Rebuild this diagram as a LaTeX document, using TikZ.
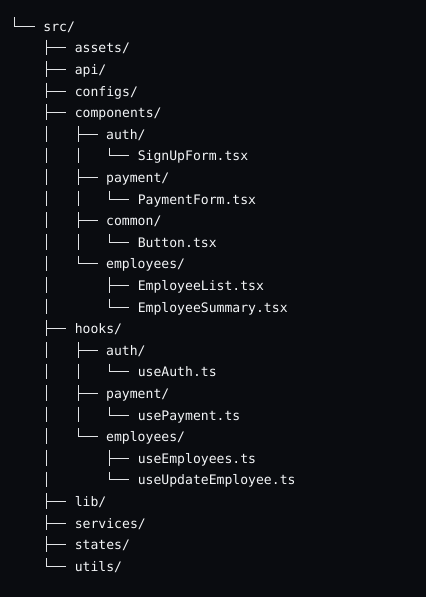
\documentclass[tikz,border=0pt]{standalone}
\usepackage{fontspec}
\setmonofont{DejaVu Sans Mono}
\usetikzlibrary{calc}
\definecolor{bgcol}{HTML}{0A0C10}
\definecolor{fgcol}{HTML}{F4F6F8}
\definecolor{linecol}{HTML}{E2E4E6}
\tikzset{
  entry/.style={anchor=west, inner sep=0pt, text height=13pt, text depth=3pt,
    text=fgcol, font=\ttfamily\fontsize{13.1}{13}\selectfont},
  twig/.style={draw=linecol, line width=1pt, line cap=rect, shorten >=8.8pt},
  trunk/.style={draw=linecol, line width=1pt, dash pattern=on 15.6pt off 6pt}
}
\begin{document}
\begin{tikzpicture}[x=1pt,y=-1pt]
  \fill[bgcol] (0,0) rectangle (426,597);
  \useasboundingbox (0,0) rectangle (426,597);
  % entries, one per row
  \node[entry] (src) at (43.2,26.2) {src/};
  \node[entry] (assets) at (74.6,47.8) {assets/};
  \node[entry] (api) at (74.6,69.4) {api/};
  \node[entry] (configs) at (74.6,91.0) {configs/};
  \node[entry] (components) at (74.6,112.6) {components/};
  \node[entry] (cauth) at (106.0,134.2) {auth/};
  \node[entry] (signup) at (137.6,155.8) {SignUpForm.tsx};
  \node[entry] (cpay) at (106.0,177.4) {payment/};
  \node[entry] (payform) at (137.6,199.0) {PaymentForm.tsx};
  \node[entry] (ccom) at (106.0,220.6) {common/};
  \node[entry] (button) at (137.6,242.2) {Button.tsx};
  \node[entry] (cemp) at (106.0,263.8) {employees/};
  \node[entry] (emplist) at (137.6,285.4) {EmployeeList.tsx};
  \node[entry] (empsum) at (137.6,307.0) {EmployeeSummary.tsx};
  \node[entry] (hooks) at (74.6,328.6) {hooks/};
  \node[entry] (hauth) at (106.0,350.2) {auth/};
  \node[entry] (useauth) at (137.6,371.8) {useAuth.ts};
  \node[entry] (hpay) at (106.0,393.4) {payment/};
  \node[entry] (usepay) at (137.6,415.0) {usePayment.ts};
  \node[entry] (hemp) at (106.0,436.6) {employees/};
  \node[entry] (useemps) at (137.6,458.2) {useEmployees.ts};
  \node[entry] (useupd) at (137.6,479.8) {useUpdateEmployee.ts};
  \node[entry] (lib) at (74.6,501.4) {lib/};
  \node[entry] (services) at (74.6,523.0) {services/};
  \node[entry] (states) at (74.6,544.6) {states/};
  \node[entry] (utils) at (74.6,566.2) {utils/};
  % root branch
  \coordinate (rootT) at ($(src.west)+(-28.5,-8.3)$);
  \draw[twig] (rootT) |- (src.west);
  % trunks and twigs
  \foreach \p/\last/\kids in {src/utils/{assets,api,configs,components,hooks,lib,services,states,utils},
      components/cemp/{cauth,cpay,ccom,cemp},
      cauth/signup/{signup}, cpay/payform/{payform}, ccom/button/{button},
      cemp/empsum/{emplist,empsum},
      hooks/hemp/{hauth,hpay,hemp},
      hauth/useauth/{useauth}, hpay/usepay/{usepay},
      hemp/useupd/{useemps,useupd}}
  {
    \coordinate (\p T) at ($(\p.west)+(3.5,13.3)$);
    \draw[trunk] (\p T) -- (\p T |- \last.west);
    \foreach \c in \kids
      \draw[twig] (\p T |- \c.west) -- (\c.west);
  }
\end{tikzpicture}
\end{document}
